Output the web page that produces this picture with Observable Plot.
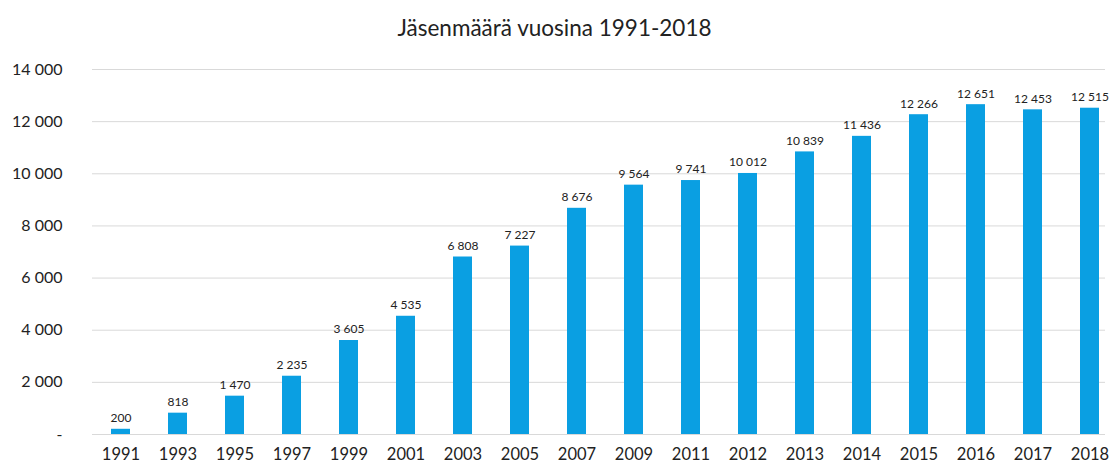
<!DOCTYPE html>
<html>
<head>
<meta charset="utf-8">
<script src="https://cdn.jsdelivr.net/npm/d3@7"></script>
<script src="https://cdn.jsdelivr.net/npm/@observablehq/plot@0.6"></script>
<style>
  body { margin: 0; background: #fff; font-family: Lato, "Open Sans", sans-serif; }
  #title { height: 50px; line-height: 55px; text-align: center; font-size: 22.5px; color: #222; width: 1109px; }
</style>
</head>
<body>
<div id="title">Jäsenmäärä vuosina 1991-2018</div>
<div id="chart"></div>
<script>
const years = ["1991","1993","1995","1997","1999","2001","2003","2005","2007","2009","2011","2012","2013","2014","2015","2016","2017","2018"];
const members = [200,818,1470,2235,3605,4535,6808,7227,8676,9564,9741,10012,10839,11436,12266,12651,12453,12515];
const yTicks = [0,2000,4000,6000,8000,10000,12000,14000];

const data = years.map((y, i) => ({year: y, value: members[i]}));
const fmtY = v => v === 0 ? "-" : d3.format(",")(v).replace(/,/g, " ");

const chart = Plot.plot({
  width: 1109,
  height: 415,
  marginLeft: 92,
  marginRight: 4,
  marginTop: 19,
  marginBottom: 31,
  style: {fontFamily: "Lato, 'Open Sans', sans-serif", color: "#222"},
  x: {domain: years, paddingInner: 0.665, paddingOuter: 0.3325, align: 0.5, label: null, insetLeft: -7, insetRight: -21},
  y: {domain: [0, 14000], label: null},
  marks: [
    Plot.ruleY(yTicks, {stroke: "#d9d9d9", strokeWidth: 1}),
    Plot.barY(data, {x: "year", y: "value", fill: "#0a9fe2"}),
    Plot.text(data, {x: "year", y: "value", text: d => fmtY(d.value), dy: -11, fontSize: 12, fill: "#222"}),
    Plot.axisX({tickSize: 0, tickPadding: 14, fontSize: 16.5}),
    Plot.axisY({ticks: yTicks, tickFormat: fmtY, tickSize: 0, tickPadding: 30, fontSize: 16})
  ]
});
document.getElementById("chart").appendChild(chart);
</script>
</body>
</html>
